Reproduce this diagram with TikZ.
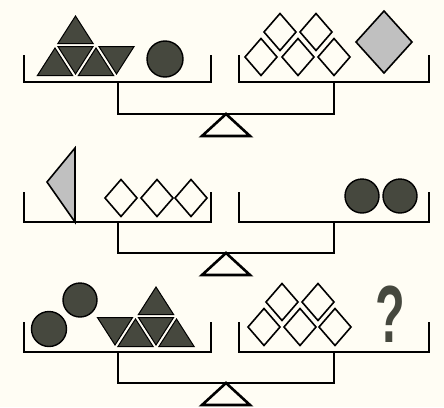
\documentclass[tikz,border=0pt]{standalone}
\usepackage{fontspec}
\setsansfont{Liberation Sans}
\usetikzlibrary{calc}

\definecolor{paper}{RGB}{255,253,244}
\definecolor{darkfill}{RGB}{70,72,62}
\definecolor{lightfill}{RGB}{192,192,192}

\begin{document}
\begin{tikzpicture}[
  x=1pt, y=-1pt,
  line join=miter,
  pan/.style={line width=2.6pt},
  tri/.style={fill=darkfill, draw=black, line width=1pt},
  ball/.style={fill=darkfill, draw=black, line width=1.4pt},
  gem/.style={draw=black, line width=1.6pt},
  uptri/.pic={\filldraw[tri] (-17.6,9.2) -- (17.6,9.2) -- (0,-18.3) -- cycle;},
  dntri/.pic={\filldraw[tri] (-17.6,-9.2) -- (17.6,-9.2) -- (0,18.3) -- cycle;},
  gemsmall/.pic={\draw[gem] (-16,0) -- (0,-18.5) -- (16,0) -- (0,18.5) -- cycle;}
]
\fill[paper] (0,0) rectangle (444,407);
\useasboundingbox (0,0) rectangle (444,407);

% Three balances: pans, beam and fulcrum
\foreach \t/\b/\m in {55/82/114, 192/222/253, 322/352/383} {
  \draw[pan] (24,\t) -- (24,\b) -- (211,\b) -- (211,\t);
  \draw[pan] (239,\t) -- (239,\b) -- (429,\b) -- (429,\t);
  \draw[pan] (118,\b) -- (118,\m) -- (334,\m) -- (334,\b);
  \draw[pan] (226,\m) -- (202,\m+22) -- (250,\m+22) -- cycle;
}

% Top left: triangles and a ball
\pic at (55,66.3) {uptri};
\pic at (75.5,55.7) {dntri};
\pic at (96,66.3) {uptri};
\pic at (116.5,55.7) {dntri};
\pic at (75.5,34.3) {uptri};
\draw[ball] (165,59) circle (18);

% Top right: five diamonds and a grey one
\foreach \x in {261,298,334} \pic at (\x,57) {gemsmall};
\foreach \x in {280,316} \pic at (\x,32) {gemsmall};
\draw[gem, fill=lightfill] (356,42) -- (384,11) -- (412,42) -- (384,73) -- cycle;

% Middle left: grey triangle and three diamonds
\draw[gem, fill=lightfill] (75,148) -- (75,222) -- (47,182) -- cycle;
\foreach \x in {121,157,191} \pic at (\x,198) {gemsmall};

% Middle right: two balls
\draw[ball] (362,196) circle (17);
\draw[ball] (400,196) circle (17);

% Bottom left: two balls and triangles
\draw[ball] (49,329) circle (17.5);
\draw[ball] (80,300) circle (17);
\pic at (115,326.7) {dntri};
\pic at (135.5,337.3) {uptri};
\pic at (156,326.7) {dntri};
\pic at (176.5,337.3) {uptri};
\pic at (156,305.3) {uptri};

% Bottom right: five diamonds and the question mark
\foreach \x in {264,300,335} \pic at (\x,327) {gemsmall};
\foreach \x in {282,318} \pic at (\x,302) {gemsmall};
\node[inner sep=0pt, xscale=0.6, text=darkfill,
  font=\sffamily\bfseries\fontsize{81}{81}\selectfont] (qmark) at (390,314) {?};
\end{tikzpicture}
\end{document}
